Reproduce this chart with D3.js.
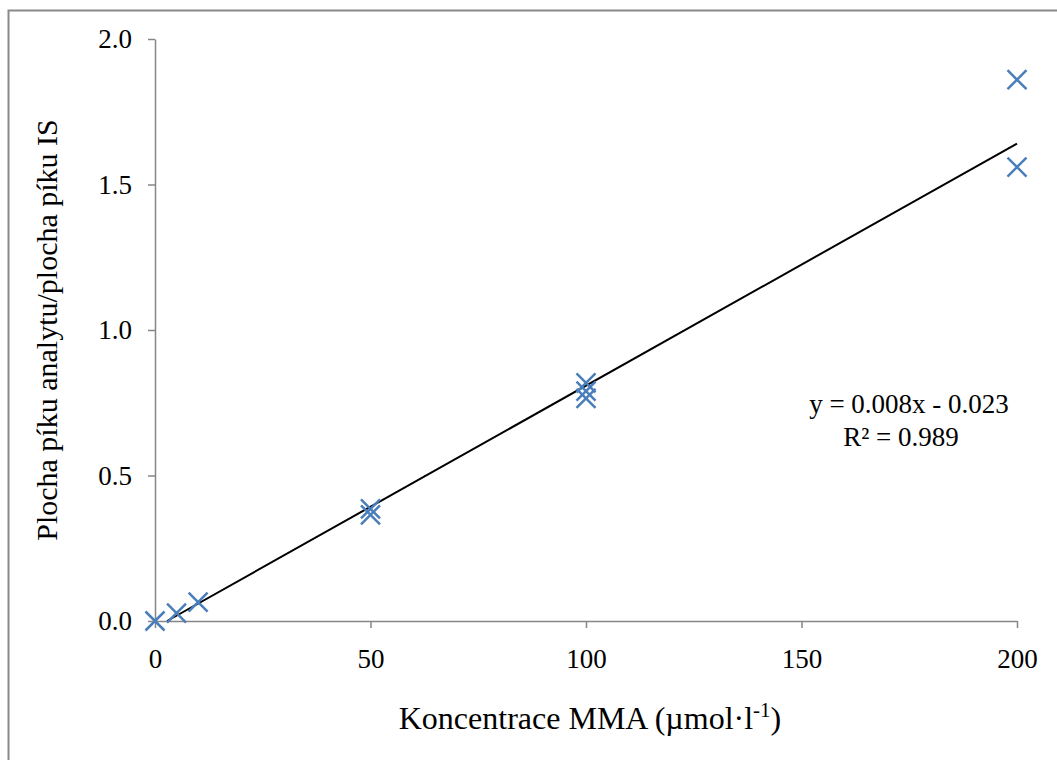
<!DOCTYPE html>
<html>
<head>
<meta charset="utf-8">
<script src="https://cdn.jsdelivr.net/npm/d3@7"></script>
<style>
  body { margin: 0; background: #fff; }
  svg { display: block; font-family: "Liberation Serif", "Times New Roman", serif; }
</style>
</head>
<body>
<div id="container"></div>
<script>
// measured points (x = concentration, y = area ratio)
const concentrations = [0, 5, 10, 50, 50, 100, 100, 100, 200, 200];
const ratios = [0, 0.027, 0.065, 0.385, 0.365, 0.818, 0.79, 0.765, 1.86, 1.56];
const xTicks = [0, 50, 100, 150, 200];
const yTicks = [0, 0.5, 1.0, 1.5, 2.0];
// trendline as drawn (slope, intercept) and label lines
const trend = [0.00832, -0.0233];
const trendLabel = ["y = 0.008x - 0.023", "R² = 0.989"];

const w = 1057;
const h = 760;

const xScale = d3.scaleLinear().domain([0, 200]).range([155, 1017]);
const yScale = d3.scaleLinear().domain([0, 2]).range([621, 39]);

const svg = d3.select("#container")
  .append("svg")
  .attr("width", w)
  .attr("height", h);

// outer chart frame
svg.append("rect")
  .attr("x", 8.5)
  .attr("y", 10.5)
  .attr("width", w + 20)
  .attr("height", h + 20)
  .attr("fill", "white")
  .attr("stroke", "#898989")
  .attr("stroke-width", 2);

const axisColor = "#868686";

const xAxis = svg.append("g")
  .attr("transform", "translate(0," + yScale(0) + ")")
  .call(d3.axisBottom(xScale).tickValues(xTicks).tickSize(7).tickPadding(21).tickSizeOuter(0));

const yAxis = svg.append("g")
  .attr("transform", "translate(" + xScale(0) + ",0)")
  .call(d3.axisLeft(yScale).tickValues(yTicks).tickFormat(d3.format(".1f")).tickSize(7).tickPadding(16).tickSizeOuter(0));

[xAxis, yAxis].forEach(g => {
  g.selectAll("path, line").attr("stroke", axisColor).attr("stroke-width", 1.5);
  g.selectAll("text")
    .attr("fill", "#000")
    .style("font-family", "'Liberation Serif', serif")
    .style("font-size", "27px");
});
xAxis.selectAll("text").attr("dy", "0.71em");

// trendline, clipped to y >= 0
const x0 = -trend[1] / trend[0];
svg.append("line")
  .attr("x1", xScale(x0))
  .attr("y1", yScale(trend[0] * x0 + trend[1]))
  .attr("x2", xScale(200))
  .attr("y2", yScale(trend[0] * 200 + trend[1]))
  .attr("stroke", "#000")
  .attr("stroke-width", 2);

// X markers
const r = 9.5;
svg.append("g")
  .selectAll("path")
  .data(concentrations.map((c, i) => [c, ratios[i]]))
  .enter()
  .append("path")
  .attr("d", d => {
    const cx = xScale(d[0]), cy = yScale(d[1]);
    return `M${cx - r},${cy - r}L${cx + r},${cy + r}M${cx - r},${cy + r}L${cx + r},${cy - r}`;
  })
  .attr("stroke", "#4a7ebb")
  .attr("stroke-width", 2.5)
  .attr("fill", "none");

// equation label
svg.append("text")
  .attr("text-anchor", "middle")
  .attr("font-size", "27px")
  .selectAll("tspan")
  .data(trendLabel)
  .enter()
  .append("tspan")
  .attr("x", (d, i) => i === 0 ? 909 : 901)
  .attr("y", (d, i) => 413 + i * 33)
  .text(d => d);

// axis titles
const xTitle = svg.append("text")
  .attr("x", 590)
  .attr("y", 729)
  .attr("text-anchor", "middle")
  .attr("font-size", "32px");
xTitle.append("tspan").text("Koncentrace MMA (µmol·l");
xTitle.append("tspan").attr("font-size", "21px").attr("dy", -12).text("-1");
xTitle.append("tspan").attr("dy", 12).text(")");

svg.append("text")
  .attr("transform", "translate(57,330) rotate(-90)")
  .attr("text-anchor", "middle")
  .attr("font-size", "30px")
  .text("Plocha píku analytu/plocha píku IS");
</script>
</body>
</html>
